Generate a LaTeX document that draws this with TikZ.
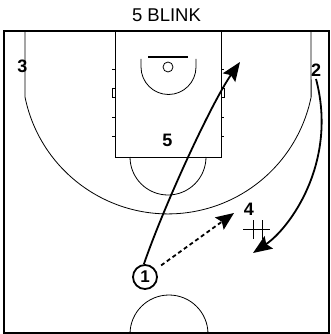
\documentclass[tikz,border=0pt]{standalone}
\usepackage{fontspec}
\setmainfont{Liberation Sans}
\usetikzlibrary{arrows.meta}
\begin{document}
\begin{tikzpicture}[x=1pt,y=-1pt,
  court/.style={line width=0.8pt,black},
  border/.style={line width=2.6pt,black},
  player/.style={font=\fontsize{18}{20}\selectfont\bfseries,inner sep=0pt},
  ballplayer/.style={circle,draw,line width=1.8pt,minimum size=24pt,inner sep=0pt,font=\fontsize{17}{19}\selectfont\bfseries},
  title/.style={font=\fontsize{18.5}{21}\selectfont,inner sep=0pt},
  cut/.style={line width=1.8pt,-{Stealth[length=19pt,width=15pt,inset=3pt]}},
  pass/.style={line width=1.8pt,dash pattern=on 4pt off 3pt,-{Stealth[length=18pt,width=15pt,inset=3pt]}},
  screen/.style={line width=0.9pt}]
\useasboundingbox (0,0) rectangle (331,334);
% title
\node[title] (title) at (166.5,15) {5 BLINK};
% court lines
\begin{scope}
\clip (4,31) rectangle (329,333);
\draw[court] (169,334) circle[radius=39];
\end{scope}
\draw[court] (115,31) rectangle (221,157);
\draw[court] (206,157) arc[start angle=0,end angle=180,radius=38];
\draw[court] (25,31) -- (25,97) arc[start angle=168.5,end angle=11.5,radius=146] -- (311,31);
\draw[court] (141,59) -- (141,67) arc[start angle=180,end angle=0,radius=27.5] -- (196,59);
\draw[line width=1.2pt] (148,57) -- (188,57);
\draw[court] (168,67) circle[radius=5];
% lane hash marks
\foreach \yy in {69,117,136}{
  \draw[court] (112,\yy) -- (115,\yy);
  \draw[court] (221,\yy) -- (224,\yy);
}
\draw[court] (112,88) rectangle (115,97);
\draw[court] (221,88) rectangle (224,97);
% border
\draw[border] (4,31) rectangle (329,333);
% players
\node[player] (p3) at (22.5,66) {3};
\node[player] (p2) at (316,70) {2};
\node[player] (p5) at (167.5,140) {5};
\node[player] (p4) at (249,209.5) {4};
\node[ballplayer] (p1) at (145,277) {1};
% screen marker
\draw[screen] (253,220) -- (253,239) (262,220) -- (262,239) (243,229) -- (270,229);
% arrows
\coordinate (t1) at (240,62);
\coordinate (t2) at (253,253);
\coordinate (t4) at (234,213);
\coordinate (s2) at (316,79);
\draw[cut] (p1.95) .. controls (165,203) and (212,102) .. (t1);
\draw[cut] (s2) .. controls (338,162) and (290,228) .. (t2);
\draw[pass,shorten <=7pt] (p1) -- (t4);
\end{tikzpicture}
\end{document}
